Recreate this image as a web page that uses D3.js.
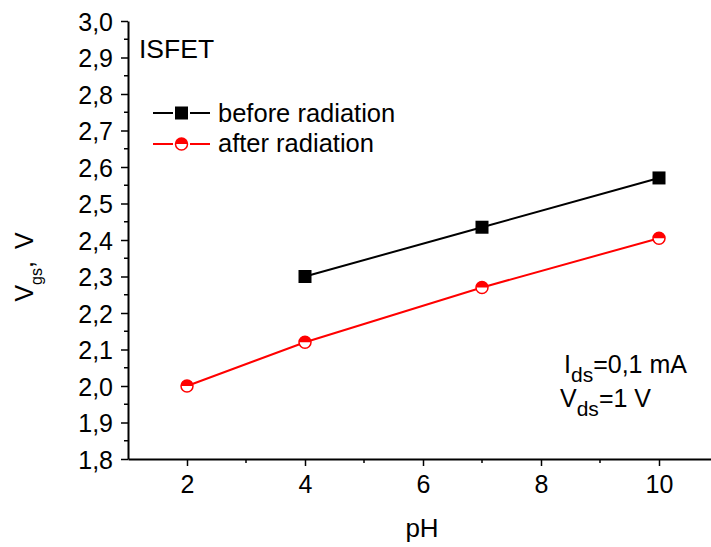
<!DOCTYPE html>
<html>
<head>
<meta charset="utf-8">
<script src="https://cdn.jsdelivr.net/npm/d3@7"></script>
<style>
  body { margin: 0; background: #fff; }
  text { font-family: "Liberation Sans", Arial, sans-serif; fill: #000; }
</style>
</head>
<body>
<div id="chart"></div>
<script>
// Data
const phBefore = [4, 7, 10];
const vgsBefore = [2.30, 2.435, 2.57];
const phAfter = [2, 4, 7, 10];
const vgsAfter = [2.00, 2.12, 2.27, 2.405];
const xTicks = [2, 4, 6, 8, 10];
const yTicks = [1.8, 1.9, 2.0, 2.1, 2.2, 2.3, 2.4, 2.5, 2.6, 2.7, 2.8, 2.9, 3.0];

const W = 711, H = 547;
const fmt = d => d3.format(".1f")(d).replace(".", ",");

const svg = d3.select("#chart")
    .append("svg")
    .attr("width", W)
    .attr("height", H);

// Scales
const x = d3.scaleLinear().domain([1, 11]).range([128, 718]);
const y = d3.scaleLinear().domain([1.8, 3.0]).range([459, 21]);

// Minor ticks
svg.append("g")
    .selectAll("line")
    .data(d3.range(3, 11, 2))
    .enter().append("line")
    .attr("x1", d => x(d)).attr("x2", d => x(d))
    .attr("y1", 459).attr("y2", 463)
    .attr("stroke", "#000").attr("stroke-width", 1.5);

svg.append("g")
    .selectAll("line")
    .data(d3.range(1.85, 3.0, 0.1))
    .enter().append("line")
    .attr("x1", 124).attr("x2", 128)
    .attr("y1", d => y(d)).attr("y2", d => y(d))
    .attr("stroke", "#000").attr("stroke-width", 1.5);

// Axes
const xAxis = svg.append("g")
    .attr("transform", "translate(0,459)")
    .call(d3.axisBottom(x).tickValues(xTicks).tickSize(7).tickPadding(9).tickSizeOuter(0).tickFormat(d3.format("d")));

const yAxis = svg.append("g")
    .attr("transform", "translate(128,0)")
    .call(d3.axisLeft(y).tickValues(yTicks).tickSize(7).tickPadding(8).tickSizeOuter(0).tickFormat(fmt));

[xAxis, yAxis].forEach(a => {
    a.select(".domain").attr("stroke-width", 2);
    a.selectAll(".tick line").attr("stroke-width", 1.5);
    a.selectAll(".tick text")
        .style("font-family", "'Liberation Sans', Arial, sans-serif")
        .style("font-size", "25px")
        .attr("fill", "#000");
});
yAxis.selectAll(".tick text").attr("dy", "0.36em");

// Lines
const line = d3.line().x(d => x(d[0])).y(d => y(d[1]));
const before = phBefore.map((p, i) => [p, vgsBefore[i]]);
const after = phAfter.map((p, i) => [p, vgsAfter[i]]);

svg.append("path").datum(before).attr("d", line)
    .attr("fill", "none").attr("stroke", "#000").attr("stroke-width", 2);
svg.append("path").datum(after).attr("d", line)
    .attr("fill", "none").attr("stroke", "#ff0000").attr("stroke-width", 2);

// Markers
function square(g, cx, cy) {
    g.append("rect")
        .attr("x", cx - 6.5).attr("y", cy - 6.5)
        .attr("width", 13).attr("height", 13)
        .attr("fill", "#000");
}
function halfCircle(g, cx, cy) {
    const r = 6;
    g.append("circle").attr("cx", cx).attr("cy", cy).attr("r", r)
        .attr("fill", "#fff").attr("stroke", "#ff0000").attr("stroke-width", 1.5);
    g.append("path")
        .attr("d", `M${cx - r},${cy} A${r},${r} 0 0 1 ${cx + r},${cy} Z`)
        .attr("fill", "#ff0000");
}

const marks = svg.append("g");
before.forEach(d => square(marks, x(d[0]), y(d[1])));
after.forEach(d => halfCircle(marks, x(d[0]), y(d[1])));

// Legend
const lg = svg.append("g");
lg.append("line").attr("x1", 153).attr("x2", 210).attr("y1", 113).attr("y2", 113)
    .attr("stroke", "#000").attr("stroke-width", 2);
lg.append("rect").attr("x", 173).attr("y", 105).attr("width", 17).attr("height", 16).attr("fill", "#fff");
square(lg, 181.5, 113);
lg.append("text").attr("x", 218).attr("y", 122).style("font-size", "25.5px").text("before radiation");

lg.append("line").attr("x1", 153).attr("x2", 210).attr("y1", 144).attr("y2", 144)
    .attr("stroke", "#ff0000").attr("stroke-width", 2);
lg.append("rect").attr("x", 173).attr("y", 136).attr("width", 17).attr("height", 16).attr("fill", "#fff");
halfCircle(lg, 181.5, 144);
lg.append("text").attr("x", 218).attr("y", 152).style("font-size", "25.5px").text("after radiation");

// Labels
svg.append("text").attr("x", 139).attr("y", 58).style("font-size", "26.5px").text("ISFET");

const t1 = svg.append("text").attr("x", 564).attr("y", 373).style("font-size", "25px");
t1.append("tspan").text("I");
t1.append("tspan").attr("dy", 9).style("font-size", "21px").text("ds");
t1.append("tspan").attr("dy", -9).text("=0,1 mA");

const t2 = svg.append("text").attr("x", 560).attr("y", 407).style("font-size", "25px");
t2.append("tspan").text("V");
t2.append("tspan").attr("dy", 9).style("font-size", "21px").text("ds");
t2.append("tspan").attr("dy", -9).text("=1 V");

svg.append("text").attr("x", 422).attr("y", 537)
    .style("text-anchor", "middle").style("font-size", "26px").text("pH");

const yt = svg.append("text")
    .attr("transform", "translate(33,267) rotate(-90)")
    .style("text-anchor", "middle").style("font-size", "25px");
yt.append("tspan").text("V");
yt.append("tspan").attr("dy", 9).style("font-size", "16px").text("gs");
yt.append("tspan").attr("dy", -9).text(",");
yt.append("tspan").attr("dx", 12).text("V");
</script>
</body>
</html>
